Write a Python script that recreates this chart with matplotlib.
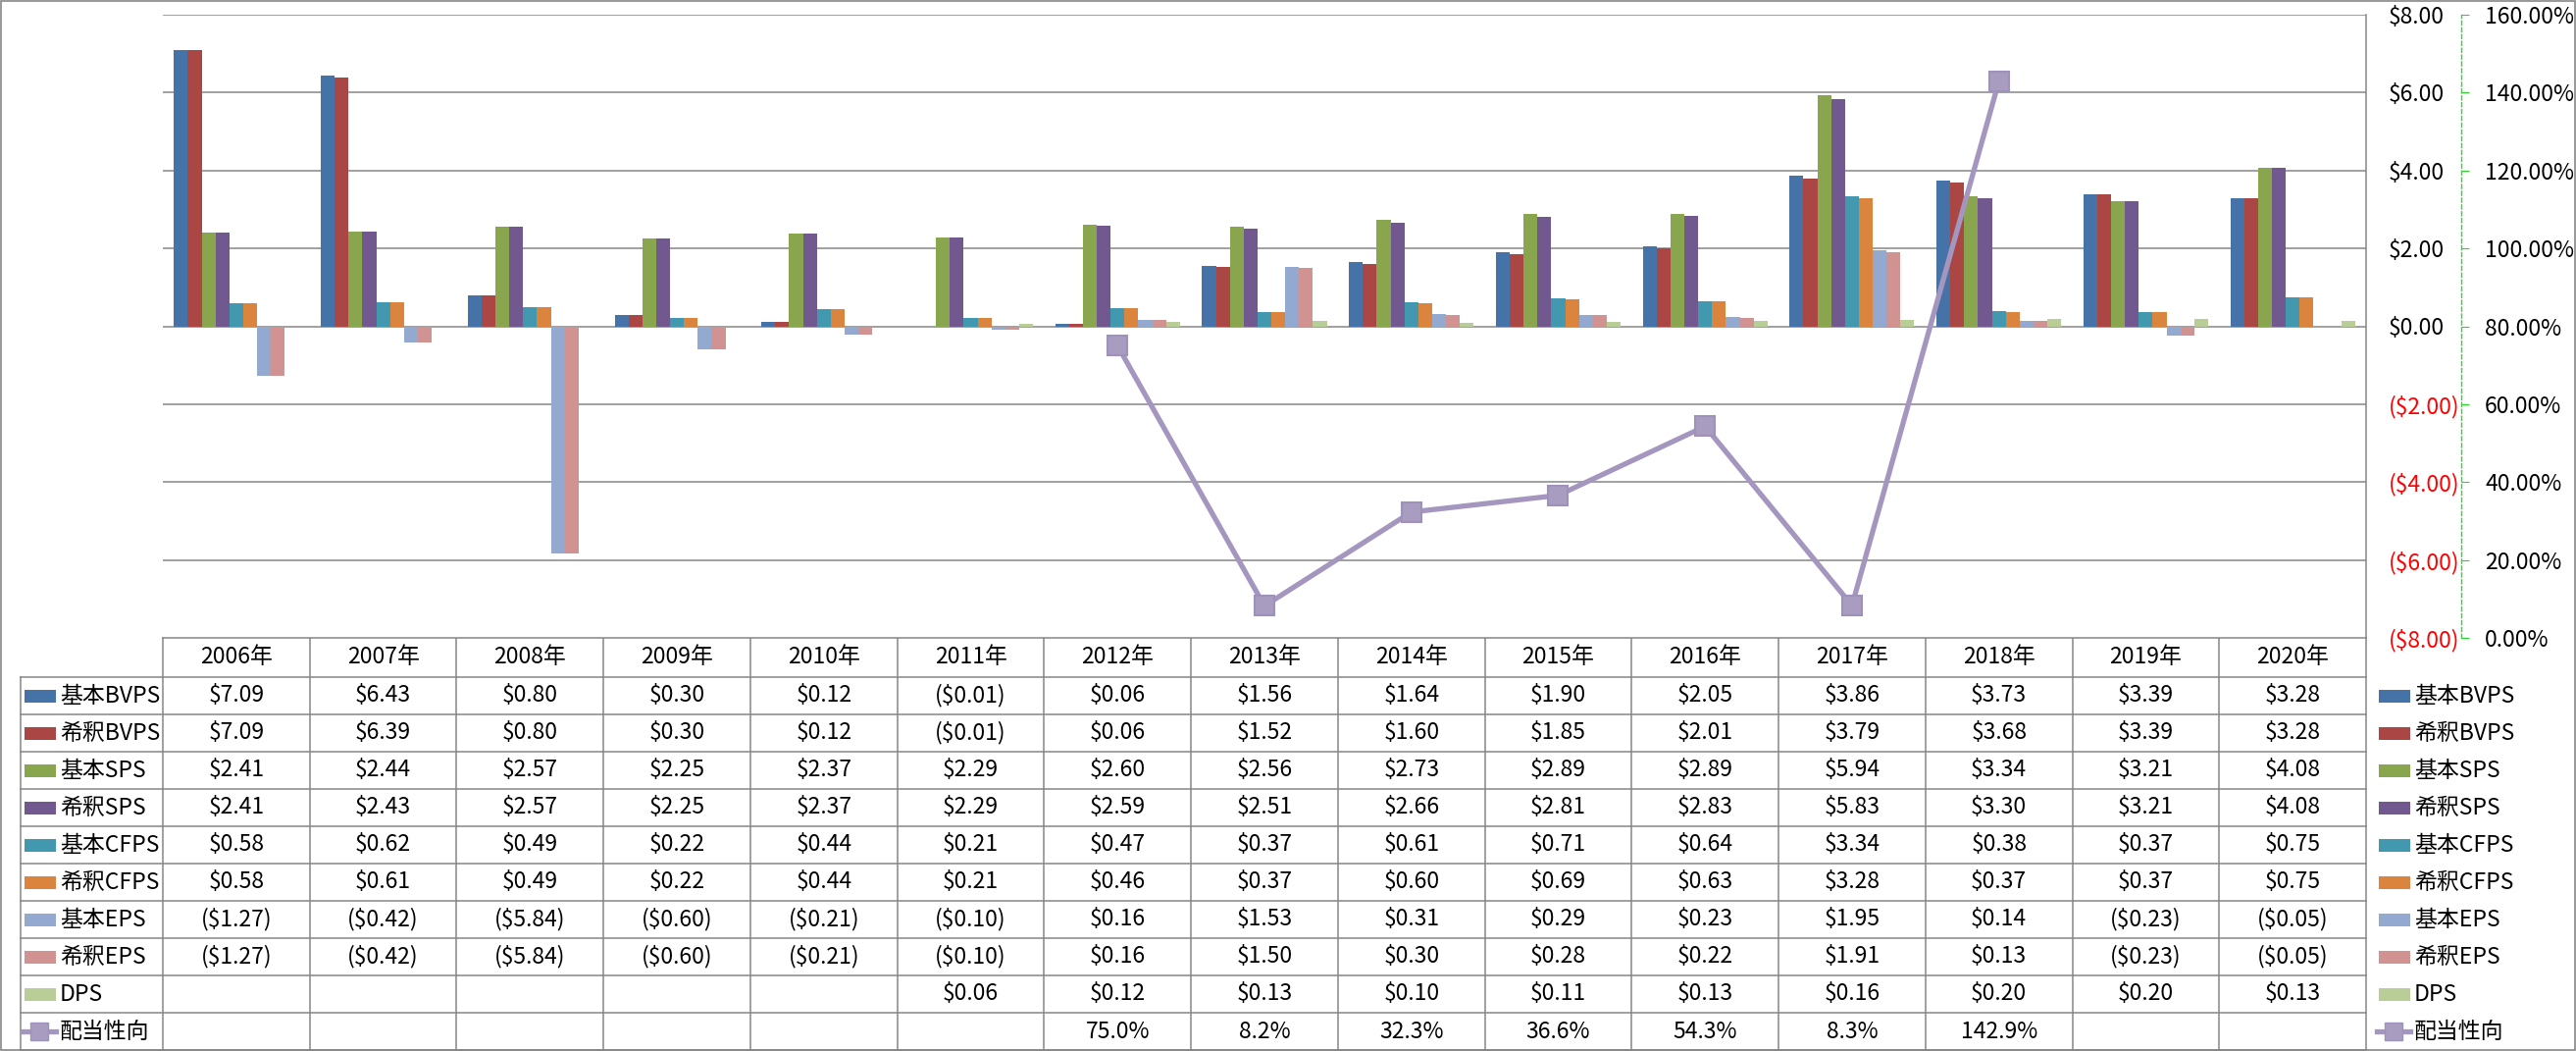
import numpy as np
import matplotlib
matplotlib.use("Agg")
import matplotlib.pyplot as plt

plt.rcParams['font.family'] = ['Noto Sans CJK JP', 'DejaVu Sans']

# chart data
years = ['2006年', '2007年', '2008年', '2009年', '2010年', '2011年', '2012年', '2013年',
         '2014年', '2015年', '2016年', '2017年', '2018年', '2019年', '2020年']

series_names = ['基本BVPS', '希釈BVPS', '基本SPS', '希釈SPS', '基本CFPS', '希釈CFPS',
                '基本EPS', '希釈EPS', 'DPS']
series_colors = ['#4572A7', '#AA4643', '#89A54E', '#71588F', '#4198AF', '#DB843D',
                 '#93A9CF', '#D19392', '#B9CD96']

basic_bvps = [7.09, 6.43, 0.80, 0.30, 0.12, -0.01, 0.06, 1.56, 1.64, 1.90, 2.05, 3.86, 3.73, 3.39, 3.28]
dil_bvps = [7.09, 6.39, 0.80, 0.30, 0.12, -0.01, 0.06, 1.52, 1.60, 1.85, 2.01, 3.79, 3.68, 3.39, 3.28]
basic_sps = [2.41, 2.44, 2.57, 2.25, 2.37, 2.29, 2.60, 2.56, 2.73, 2.89, 2.89, 5.94, 3.34, 3.21, 4.08]
dil_sps = [2.41, 2.43, 2.57, 2.25, 2.37, 2.29, 2.59, 2.51, 2.66, 2.81, 2.83, 5.83, 3.30, 3.21, 4.08]
basic_cfps = [0.58, 0.62, 0.49, 0.22, 0.44, 0.21, 0.47, 0.37, 0.61, 0.71, 0.64, 3.34, 0.38, 0.37, 0.75]
dil_cfps = [0.58, 0.61, 0.49, 0.22, 0.44, 0.21, 0.46, 0.37, 0.60, 0.69, 0.63, 3.28, 0.37, 0.37, 0.75]
basic_eps = [-1.27, -0.42, -5.84, -0.60, -0.21, -0.10, 0.16, 1.53, 0.31, 0.29, 0.23, 1.95, 0.14, -0.23, -0.05]
dil_eps = [-1.27, -0.42, -5.84, -0.60, -0.21, -0.10, 0.16, 1.50, 0.30, 0.28, 0.22, 1.91, 0.13, -0.23, -0.05]
dps = [None, None, None, None, None, 0.06, 0.12, 0.13, 0.10, 0.11, 0.13, 0.16, 0.20, 0.20, 0.13]

payout_name = '配当性向'
payout = [None, None, None, None, None, None, 75.0, 8.2, 32.3, 36.6, 54.3, 8.3, 142.9, None, None]
payout_color = '#A496BE'

all_series = [basic_bvps, dil_bvps, basic_sps, dil_sps, basic_cfps, dil_cfps, basic_eps, dil_eps, dps]

left_ticks = [8, 6, 4, 2, 0, -2, -4, -6, -8]
right_ticks = [160, 140, 120, 100, 80, 60, 40, 20, 0]


def money(v):
    if v is None:
        return ''
    if v < 0:
        return '(${:.2f})'.format(-v)
    return '${:.2f}'.format(v)


def pct(v):
    return '' if v is None else '{:.1f}%'.format(v)


W, H = 2626, 1071
FS = 16.5
GRID = '#868686'

fig = plt.figure(figsize=(W / 100, H / 100), dpi=100)

# plot area in pixels
px_l, px_r, px_t, px_b = 166, 2412, 15, 650
ax = fig.add_axes([px_l / W, 1 - px_b / H, (px_r - px_l) / W, (px_b - px_t) / H])
ax2 = ax.twinx()

n = len(years)
x = np.arange(n)
bw = 1 / (len(all_series) + 1.6)
for i, (vals, name, col) in enumerate(zip(all_series, series_names, series_colors)):
    v = np.array([np.nan if a is None else a for a in vals], dtype=float)
    ax.bar(x + (i - 4) * bw, v, bw, color=col, label=name, zorder=3, linewidth=0)

ax.set_xlim(-0.5, n - 0.5)
ax.set_ylim(-8, 8)
ax.set_xticks([])
ax.yaxis.tick_right()
ax.set_yticks(left_ticks)
ax.set_yticklabels([money(t) for t in left_ticks])
ax.tick_params(axis='y', length=0, pad=16.5, labelsize=FS)
ax.grid(axis='y', color=GRID, linewidth=1.1, zorder=0)
for s in ['left', 'top', 'bottom']:
    ax.spines[s].set_visible(False)
ax.spines['right'].set_color(GRID)
ax.spines['right'].set_linewidth(1.1)

p = np.array([np.nan if a is None else a for a in payout], dtype=float)
ax2.plot(x, p, color=payout_color, linewidth=3.8, marker='s', markersize=15,
         markerfacecolor='#A99CC1', markeredgecolor='#9F92BA', markeredgewidth=1.5, zorder=5)
ax2.set_ylim(0, 160)
ax2.set_yticks(right_ticks)
ax2.set_yticklabels(['{:.2f}%'.format(t) for t in right_ticks])
ax2.tick_params(axis='y', direction='out', length=5.8, width=0.8, color='#22DD22',
                pad=11.5, labelsize=FS)
for s in ['left', 'top', 'bottom']:
    ax2.spines[s].set_visible(False)
ax2.spines['right'].set_position(('axes', (2509 - px_l) / (px_r - px_l)))
ax2.spines['right'].set_color('#22DD22')
ax2.spines['right'].set_linestyle((0, (3, 2)))
ax2.spines['right'].set_linewidth(1.0)

# negative dollar labels in red
for tick, t in zip(ax.yaxis.get_major_ticks(), left_ticks):
    c = '#FF0000' if t < 0 else 'black'
    tick.label1.set_color(c)
    tick.label2.set_color(c)

# data table drawn underneath in pixel space
tab = fig.add_axes([0, 0, 1, 1], zorder=-1)
tab.set_xlim(0, W)
tab.set_ylim(H, 0)
tab.axis('off')

colw = (px_r - px_l) / n
head_t, head_b = 650, 690
rowh = 38
nrows = len(all_series) + 1
tab_b = head_b + nrows * rowh
lab_l = 21

lw = 1.1
# horizontal lines
tab.plot([px_l, px_r], [head_t, head_t], color=GRID, lw=lw)
for r in range(nrows + 1):
    y = head_b + r * rowh
    tab.plot([lab_l, px_r], [y, y], color=GRID, lw=lw)
# vertical lines
tab.plot([lab_l, lab_l], [head_b, tab_b], color=GRID, lw=lw)
for k in range(n + 1):
    xx = px_l + k * colw
    tab.plot([xx, xx], [head_t, tab_b], color=GRID, lw=lw)

for j, yr in enumerate(years):
    tab.text(px_l + (j + 0.5) * colw, (head_t + head_b) / 2, yr, ha='center', va='center', fontsize=FS)

rows_text = [[money(v) for v in vals] for vals in all_series] + [[pct(v) for v in payout]]
row_names = series_names + [payout_name]
for r, (cells, name) in enumerate(zip(rows_text, row_names)):
    yc = head_b + (r + 0.5) * rowh
    for j, c in enumerate(cells):
        if c:
            tab.text(px_l + (j + 0.5) * colw, yc, c, ha='center', va='center', fontsize=FS)
    # legend keys inside table and on the right
    for kx, tx in [(25, 61), (2425, 2461)]:
        if r < len(series_colors):
            tab.add_patch(plt.Rectangle((kx, yc - 6.5), 32, 13, color=series_colors[r], lw=0))
        else:
            tab.plot([kx - 2, kx + 32], [yc, yc], color=payout_color, lw=3.8)
            tab.plot([kx + 15], [yc], marker='s', markersize=13, color='#A99CC1',
                     markeredgecolor='#9F92BA')
        tab.text(tx, yc, name, ha='left', va='center', fontsize=FS)

# outer border
tab.add_patch(plt.Rectangle((0.5, 0.5), W - 1.5, H - 1.5, fill=False, edgecolor=GRID, lw=1.2))

fig.savefig('out.png', dpi=100)
